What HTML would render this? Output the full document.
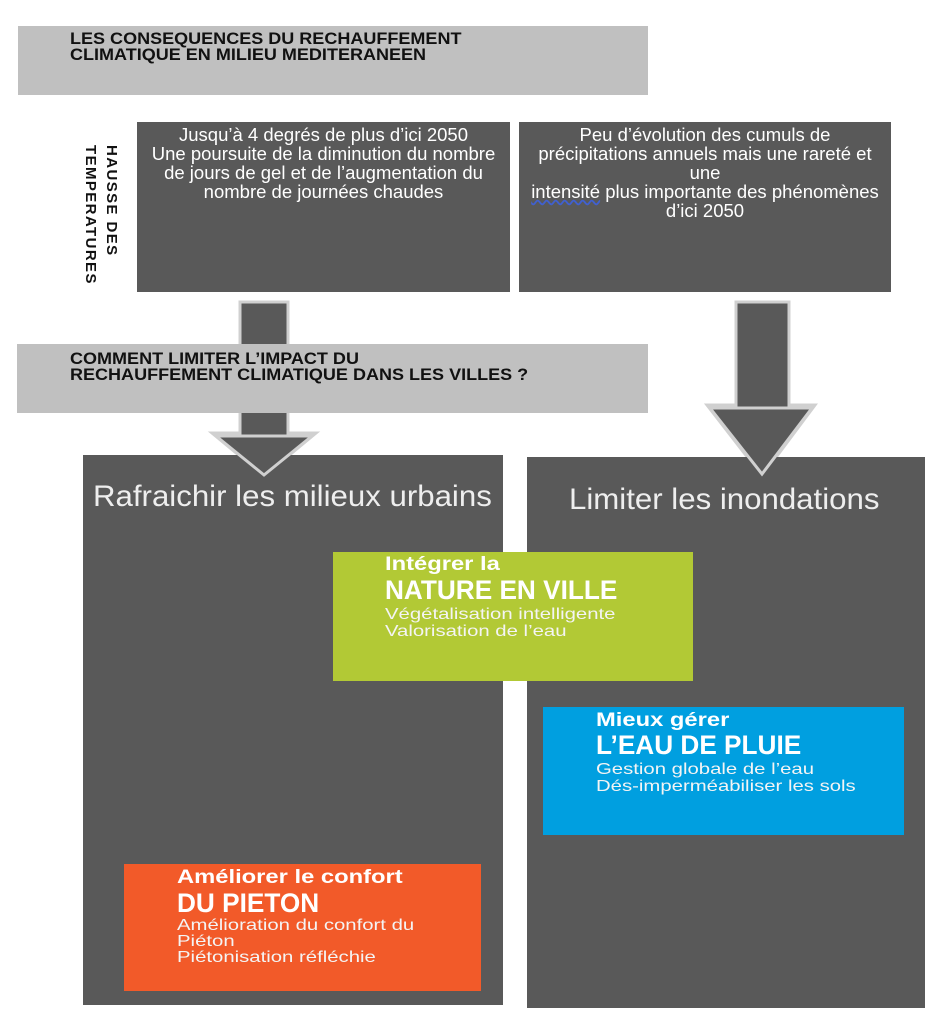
<!DOCTYPE html>
<html><head><meta charset="utf-8"><style>
body{margin:0;width:941px;height:1024px;background:#fff;position:relative;overflow:hidden;font-family:"Liberation Sans",sans-serif}
.a{position:absolute;box-sizing:border-box}
.gray{background:#c0c0c0}
.dk{background:#595959}
.hd{font-weight:bold;font-size:17px;line-height:16px;color:#111;transform:scaleX(1.06);transform-origin:left top;white-space:nowrap}
.bt{color:#fff;font-size:18.5px;line-height:19px;text-align:center;transform:scaleX(1.0);transform-origin:center top;white-space:nowrap}
.big{color:#eee;font-size:30px;white-space:nowrap;transform:scaleX(1.04);transform-origin:left top}
.t1{font-weight:bold;font-size:19px;color:#fff;line-height:20px;transform:scaleX(1.25);transform-origin:left top;white-space:nowrap}
.t2{font-weight:bold;font-size:27px;color:#fff;line-height:28px;transform:scaleX(0.97);transform-origin:left top;white-space:nowrap}
.t3{font-size:16px;color:#f4f4f4;line-height:17px;white-space:nowrap;transform:scaleX(1.27);transform-origin:left top}
</style></head><body>
<div class="a gray" style="left:18px;top:26px;width:630px;height:69px"></div>
<div class="a hd" style="left:70px;top:31px">LES CONSEQUENCES DU RECHAUFFEMENT<br>CLIMATIQUE EN MILIEU MEDITERANEEN</div>

<div class="a" style="left:80px;top:145px;height:140px;writing-mode:vertical-rl;font-weight:bold;font-size:15px;line-height:21px;letter-spacing:1.4px;color:#111">HAUSSE DES<br>TEMPERATURES</div>

<div class="a dk" style="left:137px;top:122px;width:373px;height:170px"></div>
<div class="a bt" style="left:137px;top:125px;width:373px">Jusqu’à 4 degrés de plus d’ici 2050<br>Une poursuite de la diminution du nombre<br>de jours de gel et de l’augmentation du<br>nombre de journées chaudes</div>
<div class="a dk" style="left:519px;top:122px;width:372px;height:170px"></div>
<div class="a bt" style="left:519px;top:125px;width:372px">Peu d’évolution des cumuls de<br>précipitations annuels mais une rareté et<br>une<br><u style="text-decoration-color:#4060d0;text-decoration-style:wavy">intensité</u> plus importante des phénomènes<br>d’ici 2050</div>

<svg class="a" style="left:0;top:0" width="941" height="1024">
<g fill="#595959" stroke="#d0d0d0" stroke-width="3">
<polygon points="240,302 288,302 288,433 316,433 264,476 212,433 240,433"/>
<polygon points="736,302 789,302 789,405 815,405 762,476 707,405 736,405"/>
</g></svg>

<div class="a gray" style="left:17px;top:344px;width:631px;height:69px"></div>
<div class="a hd" style="left:70px;top:351px">COMMENT LIMITER L’IMPACT DU<br>RECHAUFFEMENT CLIMATIQUE DANS LES VILLES ?</div>

<div class="a dk" style="left:83px;top:455px;width:420px;height:550px"></div>
<div class="a dk" style="left:527px;top:457px;width:398px;height:551px"></div>
<svg class="a" style="left:0;top:0" width="941" height="1024">
<g fill="#595959" stroke="#d0d0d0" stroke-width="3">
<polygon points="216,436 312,436 264,475"/>
<polygon points="710,408 812,408 762,474"/>
</g></svg>
<div class="a big" style="left:93px;top:480px">Rafraichir les milieux urbains</div>
<div class="a big" style="left:569px;top:483px">Limiter les inondations</div>

<div class="a" style="left:333px;top:552px;width:360px;height:129px;background:#b2c935"></div>
<div class="a t1" style="left:385px;top:555px">Intégrer la</div>
<div class="a t2" style="left:385px;top:576px">NATURE EN VILLE</div>
<div class="a t3" style="left:385px;top:606px">Végétalisation intelligente<br>Valorisation de l’eau</div>

<div class="a" style="left:543px;top:707px;width:361px;height:128px;background:#009fe0"></div>
<div class="a t1" style="left:596px;top:711px">Mieux gérer</div>
<div class="a t2" style="left:596px;top:731px">L’EAU DE PLUIE</div>
<div class="a t3" style="left:596px;top:761px">Gestion globale de l’eau<br>Dés-imperméabiliser les sols</div>

<div class="a" style="left:124px;top:864px;width:357px;height:127px;background:#f25a29"></div>
<div class="a t1" style="left:177px;top:868px">Améliorer le confort</div>
<div class="a t2" style="left:177px;top:889px">DU PIETON</div>
<div class="a t3" style="left:177px;top:918px;line-height:16px">Amélioration du confort du<br>Piéton<br>Piétonisation réfléchie</div>
</body></html>
